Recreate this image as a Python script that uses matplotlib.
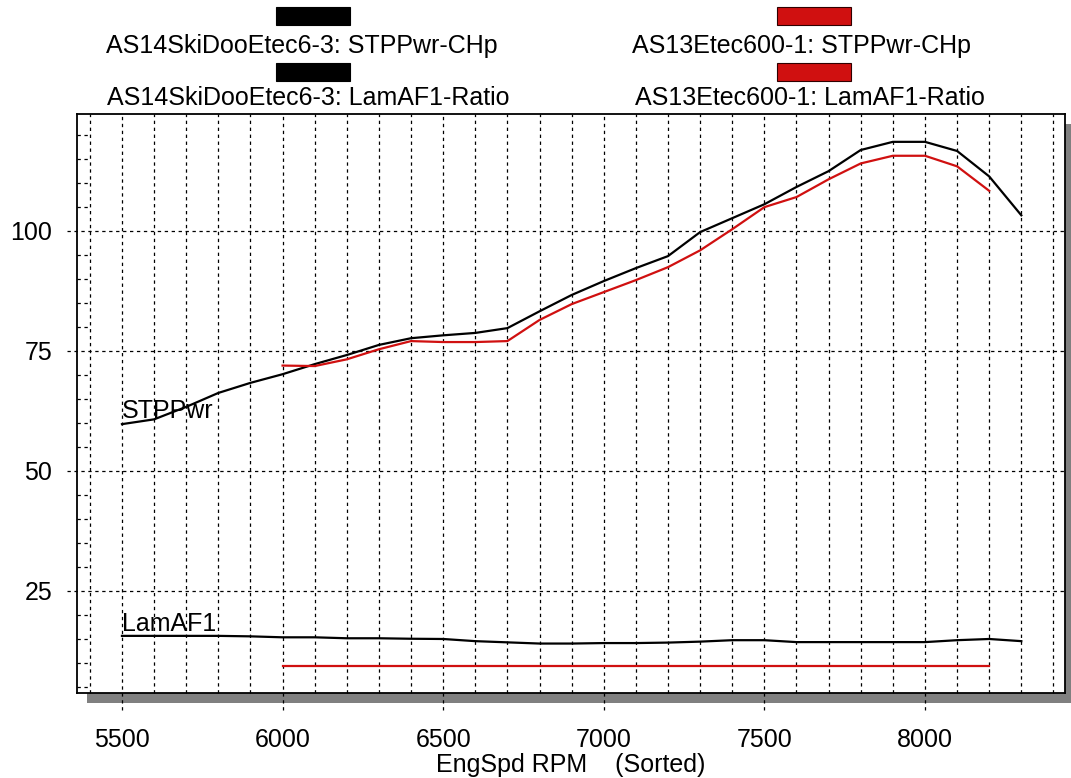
import matplotlib
matplotlib.use("Agg")
import matplotlib.pyplot as plt
from matplotlib.patches import Rectangle
import numpy as np

plt.rcParams['font.family'] = ['Liberation Sans', 'DejaVu Sans']
plt.rcParams['lines.scale_dashes'] = False

# ---------------- data ----------------
rpm_black = [5500, 5600, 5700, 5800, 5900, 6000, 6100, 6200, 6300, 6400, 6500,
             6600, 6700, 6800, 6900, 7000, 7100, 7200, 7300, 7400, 7500, 7600,
             7700, 7800, 7900, 8000, 8100, 8200, 8300]
pwr_black = [59.7, 60.7, 63.3, 66.2, 68.3, 70.1, 72.2, 74.1, 76.2, 77.6, 78.2,
             78.7, 79.7, 83.2, 86.6, 89.5, 92.2, 94.7, 99.7, 102.6, 105.5, 109.1,
             112.4, 116.8, 118.5, 118.5, 116.6, 111.3, 103.2]
lam_black = [15.6, 15.6, 15.6, 15.6, 15.5, 15.3, 15.3, 15.1, 15.1, 15.0, 14.95,
             14.5, 14.25, 14.0, 14.0, 14.1, 14.1, 14.2, 14.4, 14.7, 14.7, 14.3,
             14.3, 14.3, 14.3, 14.3, 14.7, 14.95, 14.5]

rpm_red = [6000, 6100, 6200, 6300, 6400, 6500, 6600, 6700, 6800, 6900, 7000,
           7100, 7200, 7300, 7400, 7500, 7600, 7700, 7800, 7900, 8000, 8100, 8200]
pwr_red = [71.9, 71.8, 73.2, 75.3, 77.0, 76.8, 76.8, 77.0, 81.4, 84.7, 87.2,
           89.7, 92.4, 95.9, 100.3, 104.9, 107.0, 110.7, 114.0, 115.6, 115.6, 113.4, 108.3]
lam_red = [9.3] * len(rpm_red)

x_major = [5500, 6000, 6500, 7000, 7500, 8000]
y_major = [25, 50, 75, 100]
legend_labels = ["AS14SkiDooEtec6-3: STPPwr-CHp", "AS14SkiDooEtec6-3: LamAF1-Ratio",
                 "AS13Etec600-1: STPPwr-CHp", "AS13Etec600-1: LamAF1-Ratio"]
x_label = "EngSpd RPM    (Sorted)"

BLACK = "#000000"
RED = "#d01010"
FS = 18

# ---------------- figure ----------------
W, H = 1071, 778
fig = plt.figure(figsize=(W / 100, H / 100), dpi=100)
fig.patch.set_facecolor("white")

L, R, T, B = 77, 1065, 114, 693
ax = fig.add_axes([L / W, 1 - B / H, (R - L) / W, (B - T) / H])
ax.set_facecolor("white")
ax.set_zorder(1)

# drop shadow
fig.patches.append(Rectangle(((L + 10) / W, 1 - (B + 10) / H), (R - L) / W, (B - T) / H,
                             transform=fig.transFigure, facecolor="#808080",
                             edgecolor="none", zorder=0))

ax.set_xlim(5360, 8436)
ax.set_ylim(3.7, 124.3)

for s in ax.spines.values():
    s.set_linewidth(1.3)
    s.set_color("black")

dash = (0, (2.4, 2.6))
# vertical grid every 100 rpm
for xv in range(5400, 8401, 100):
    ymin = -17 / (B - T) if xv in x_major else 0
    ax.plot([xv, xv], [ymin, 1], transform=ax.get_xaxis_transform(), color="black",
            lw=0.9, ls=dash, clip_on=False, zorder=1)
# horizontal major grid
for yv in y_major:
    ax.plot([-10 / (R - L), 1], [yv, yv], transform=ax.get_yaxis_transform(), color="black",
            lw=0.9, ls=dash, clip_on=False, zorder=1)
# minor y ticks
for yv in range(5, 121, 5):
    if yv % 25:
        ax.plot([0, 12 / (R - L)], [yv, yv], transform=ax.get_yaxis_transform(),
                color="black", lw=0.9, ls=dash, zorder=1)

ax.set_xticks(x_major)
ax.set_xticklabels([str(v) for v in x_major])
ax.set_yticks(y_major)
ax.set_yticklabels([str(v) for v in y_major])
ax.tick_params(axis="x", length=0, pad=25, labelsize=FS)
ax.tick_params(axis="y", length=0, pad=18, labelsize=FS)
ax.set_xlabel(x_label, fontsize=FS, labelpad=1)

# lines
ax.plot(rpm_black, pwr_black, color=BLACK, lw=1.6, zorder=3)
ax.plot(rpm_red, pwr_red, color=RED, lw=1.6, zorder=4)
ax.plot(rpm_black, lam_black, color=BLACK, lw=1.6, zorder=3)
ax.plot(rpm_red, lam_red, color=RED, lw=1.6, zorder=4)

ax.text(5500, 61.0, "STPPwr", fontsize=FS, va="baseline", ha="left", zorder=5)
ax.text(5500, 16.6, "LamAF1", fontsize=FS, va="baseline", ha="left", zorder=5)

# legend
bars = [(276, 7, BLACK), (276, 63, BLACK), (777, 7, RED), (777, 63, RED)]
texts = [(302, 46), (308, 98), (802, 46), (810, 98)]
for (bx, by, c), (tx, ty), lab in zip(bars, texts, legend_labels):
    fig.patches.append(Rectangle((bx / W, 1 - (by + 18) / H), 74 / W, 18 / H,
                                 transform=fig.transFigure, facecolor=c,
                                 edgecolor="#300000" if c == RED else "black", lw=0.8))
    fig.text(tx / W, 1 - ty / H, lab, fontsize=FS, ha="center", va="center")

fig.savefig("out.png", dpi=100)
